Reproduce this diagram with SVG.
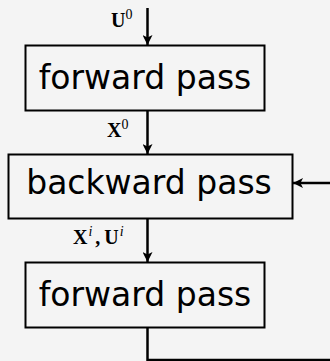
<svg xmlns="http://www.w3.org/2000/svg" width="330" height="361" viewBox="0 0 330 361">
<style>
.box{fill:none;stroke:#000;stroke-width:2}
.lbl{font-family:"DejaVu Sans",sans-serif;font-size:33px;fill:#000;text-anchor:middle}
.math{font-family:"Liberation Serif",serif;font-weight:bold;font-size:20px;fill:#000}
.sup{font-size:14px;font-weight:normal}
.supi{font-size:14px;font-weight:normal;font-style:italic}
.wire{fill:none;stroke:#000;stroke-width:2.5}
</style>
<defs>
<marker id="ah" viewBox="0 0 10 10" refX="10" refY="5" markerWidth="4.4" markerHeight="4" orient="auto" markerUnits="strokeWidth">
<path d="M0,0 L10,5 L0,10 L2.5,5 z" fill="#000"/>
</marker>
</defs>
<rect width="330" height="361" fill="#f4f4f4"/>
<g id="connectors">
<line class="wire" x1="147.5" y1="8" x2="147.5" y2="45" marker-end="url(#ah)"/>
<line class="wire" x1="147.5" y1="111" x2="147.5" y2="154" marker-end="url(#ah)"/>
<line class="wire" x1="147.5" y1="219" x2="147.5" y2="262" marker-end="url(#ah)"/>
<polyline class="wire" points="147.5,328 147.5,360 332,360"/>
<line class="wire" x1="332" y1="183" x2="293" y2="183" marker-end="url(#ah)"/>
<text class="math" x="111" y="27">U<tspan class="sup" dy="-8">0</tspan></text>
<text class="math" x="107" y="137">X<tspan class="sup" dy="-8">0</tspan></text>
<text class="math" x="73" y="244">X<tspan class="supi" dx="1" dy="-8">i</tspan><tspan dx="3" dy="8">,</tspan><tspan dx="4">U</tspan><tspan class="supi" dx="1" dy="-8">i</tspan></text>
</g>
<g id="forward1">
<rect class="box" x="25.5" y="45.5" width="239" height="65"/>
<text class="lbl" x="145" y="89">forward pass</text>
</g>
<g id="backward">
<rect class="box" x="8.5" y="154.5" width="284" height="64"/>
<text class="lbl" x="149" y="194">backward pass</text>
</g>
<g id="forward2">
<rect class="box" x="25.5" y="262.5" width="239" height="65"/>
<text class="lbl" x="145" y="306">forward pass</text>
</g>
</svg>
